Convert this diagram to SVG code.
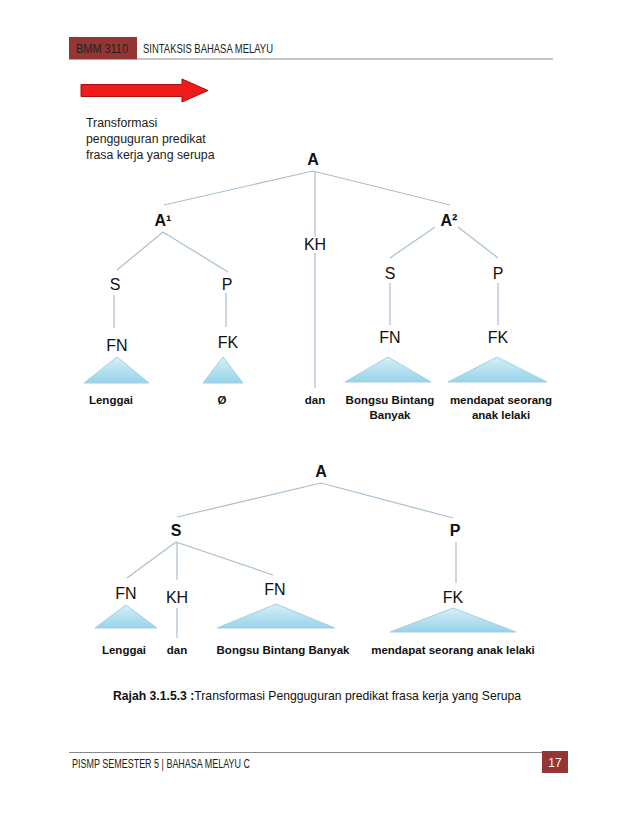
<svg xmlns="http://www.w3.org/2000/svg" width="638" height="826" viewBox="0 0 638 826">
<defs>
<linearGradient id="tri" x1="0" y1="0" x2="0" y2="1">
<stop offset="0" stop-color="#d6f0f8"/>
<stop offset="1" stop-color="#97d3ea"/>
</linearGradient>
<style>
.hdr{font-family:"Liberation Sans",Arial,sans-serif;font-size:12px;fill:#222}
.lbl{font-family:"Liberation Sans",Arial,sans-serif;font-size:16px;fill:#111;text-anchor:middle}
.lblb{font-family:"Liberation Sans",Arial,sans-serif;font-size:16px;font-weight:bold;fill:#111;text-anchor:middle}
.leaf{font-family:"Liberation Sans",Arial,sans-serif;font-size:11.5px;font-weight:bold;fill:#111;text-anchor:middle}
.note{font-family:"Liberation Sans",Arial,sans-serif;font-size:12.3px;fill:#222}
.cap{font-family:"Liberation Sans",Arial,sans-serif;font-size:12.2px;fill:#111}
.edge{stroke:#a9bfd0;stroke-width:1.2;fill:none}
.tri{fill:url(#tri);stroke:#a3d0e2;stroke-width:1}
</style>
</defs>
<rect width="638" height="826" fill="#fff"/>
<!-- header -->
<g id="header">
<rect x="69" y="37" width="68" height="22.5" fill="#943634"/>
<text class="hdr" x="76" y="53" textLength="52" lengthAdjust="spacingAndGlyphs" fill="#2a1414">BMM 3110</text>
<line x1="137" y1="59" x2="553" y2="59" stroke="#888" stroke-width="1"/>
<text class="hdr" x="143" y="53" textLength="130" lengthAdjust="spacingAndGlyphs">SINTAKSIS BAHASA MELAYU</text>
</g>
<!-- arrow -->
<g id="arrow">
<polygon points="81,84.5 182,84.5 182,79 208,90.5 182,102 182,96.5 81,96.5" fill="#ee1c1c" stroke="#a80f0f" stroke-width="1"/>
</g>
<g id="note">
<text class="note" x="86" y="127">Transformasi</text>
<text class="note" x="86" y="143">pengguguran predikat</text>
<text class="note" x="86" y="159">frasa kerja yang serupa</text>
</g>
<!-- connectors -->
<g id="connectors">
<path class="edge" d="M313,171 L164,205 M313,171 L450,205 M315,171 L315,237"/>
<path class="edge" d="M163,232 L117,270 M163,232 L228,272"/>
<path class="edge" d="M435,227 L390,258 M458,227 L498,258"/>
<path class="edge" d="M315,253 L315,388"/>
<path class="edge" d="M114,295 L114,328 M226,293 L226,327"/>
<path class="edge" d="M390,283 L390,325 M498,283 L498,325"/>
<path class="edge" d="M321,483 L177,517 M321,483 L453,518"/>
<path class="edge" d="M176,542 L127,578 M177,542 L177,580 M176,542 L273,575"/>
<path class="edge" d="M456,542 L456,583"/>
<path class="edge" d="M177,608 L177,638"/>
</g>
<!-- top tree -->
<g id="t-A"><text class="lblb" x="313" y="165">A</text></g>
<g id="t-A1"><text class="lblb" x="163" y="226">A¹</text></g>
<g id="t-A2"><text class="lblb" x="449" y="226">A²</text></g>
<g id="t-KH"><text class="lbl" x="315" y="250">KH</text></g>
<g id="t-S1"><text class="lbl" x="115" y="290">S</text></g>
<g id="t-P1"><text class="lbl" x="227" y="290">P</text></g>
<g id="t-S2"><text class="lbl" x="390" y="279">S</text></g>
<g id="t-P2"><text class="lbl" x="498" y="279">P</text></g>
<g id="t-FN1"><text class="lbl" x="117" y="351">FN</text>
<polygon class="tri" points="117,357 149,383 84,383"/>
<text class="leaf" x="111" y="404">Lenggai</text></g>
<g id="t-FK1"><text class="lbl" x="228" y="348">FK</text>
<polygon class="tri" points="223,357 243,383 203,383"/>
<text class="leaf" x="222" y="404">Ø</text></g>
<g id="t-dan"><text class="leaf" x="315" y="404">dan</text></g>
<g id="t-FN2"><text class="lbl" x="390" y="343">FN</text>
<polygon class="tri" points="388,357 431,382 345,382"/>
<text class="leaf" x="390" y="404">Bongsu Bintang</text>
<text class="leaf" x="390" y="419">Banyak</text></g>
<g id="t-FK2"><text class="lbl" x="498" y="343">FK</text>
<polygon class="tri" points="497,357 547,382 448,382"/>
<text class="leaf" x="501" y="404">mendapat seorang</text>
<text class="leaf" x="501" y="419">anak lelaki</text></g>
<!-- bottom tree -->
<g id="b-A"><text class="lblb" x="321" y="477" font-size="15">A</text></g>
<g id="b-S"><text class="lblb" x="176" y="536" font-size="15">S</text></g>
<g id="b-P"><text class="lblb" x="455" y="536" font-size="15">P</text></g>
<g id="b-FN1"><text class="lbl" x="126" y="599">FN</text>
<polygon class="tri" points="126,605 157,628 95,628"/>
<text class="leaf" x="124" y="654">Lenggai</text></g>
<g id="b-KH"><text class="lbl" x="177" y="603">KH</text>
<text class="leaf" x="177" y="654">dan</text></g>
<g id="b-FN2"><text class="lbl" x="275" y="595">FN</text>
<polygon class="tri" points="276,604 335,628 217,628"/>
<text class="leaf" x="283" y="654">Bongsu Bintang Banyak</text></g>
<g id="b-FK"><text class="lbl" x="453" y="603">FK</text>
<polygon class="tri" points="453,608 516,632 390,632"/>
<text class="leaf" x="453" y="654" font-size="11">mendapat seorang anak lelaki</text></g>
<!-- caption -->
<g id="caption">
<text class="cap" x="113" y="700"><tspan font-weight="bold">Rajah 3.1.5.3 :</tspan>Transformasi Pengguguran predikat frasa kerja yang Serupa</text>
</g>
<!-- footer -->
<g id="footer">
<line x1="69" y1="752.5" x2="555" y2="752.5" stroke="#888" stroke-width="1"/>
<text class="hdr" x="72" y="768" textLength="178" lengthAdjust="spacingAndGlyphs">PISMP SEMESTER 5 | BAHASA MELAYU C</text>
<rect x="542" y="751" width="26" height="22" fill="#943634"/>
<text class="hdr" x="555" y="767" text-anchor="middle" style="fill:#fff">17</text>
</g>
</svg>
